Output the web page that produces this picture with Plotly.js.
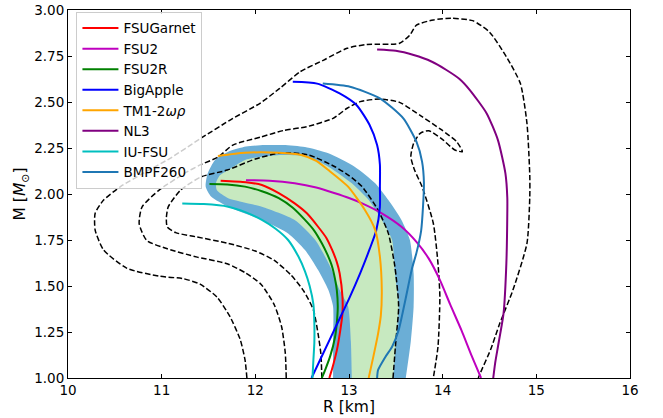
<!DOCTYPE html>
<html>
<head>
<meta charset="utf-8">
<script src="https://cdn.plot.ly/plotly-3.0.1.min.js"></script>
<style>html,body{margin:0;padding:0;background:#fff;}#chart{width:663px;height:418px;}</style>
</head>
<body>
<div id="chart"></div>
<script>
// ---- EoS mass-radius curves (R in km, M in solar masses) ----
const fsuGarnetR = [11.63, 11.90, 12.07, 12.25, 12.42, 12.55, 12.67, 12.76, 12.82, 12.87, 12.90, 12.93, 12.93, 12.91, 12.87, 12.82, 12.79];
const fsuGarnetM = [2.072, 2.064, 2.049, 2.005, 1.949, 1.895, 1.822, 1.76, 1.696, 1.63, 1.569, 1.442, 1.35, 1.27, 1.15, 1.05, 1.0];

const fsu2R = [11.90, 12.15, 12.42, 12.65, 12.85, 13.00, 13.14, 13.35, 13.56, 13.72, 13.85, 13.97, 14.08, 14.20, 14.31, 14.41];
const fsu2M = [2.075, 2.072, 2.058, 2.035, 2.004, 1.978, 1.949, 1.895, 1.822, 1.74, 1.65, 1.533, 1.40, 1.26, 1.12, 1.0];

const fsu2rR = [11.51, 11.70, 11.89, 12.07, 12.25, 12.40, 12.53, 12.63, 12.71, 12.77, 12.82, 12.85, 12.87, 12.88, 12.87, 12.85, 12.80, 12.75, 12.71];
const fsu2rM = [2.054, 2.052, 2.04, 2.015, 1.977, 1.925, 1.859, 1.80, 1.732, 1.67, 1.605, 1.54, 1.478, 1.388, 1.30, 1.22, 1.12, 1.05, 1.0];

const bigAppleR = [12.40, 12.66, 12.90, 13.08, 13.22, 13.30, 13.33, 13.33, 13.33, 13.29, 13.22, 13.12, 13.00, 12.86, 12.73, 12.60];
const bigAppleM = [2.61, 2.60, 2.547, 2.484, 2.375, 2.266, 2.16, 2.04, 1.93, 1.80, 1.70, 1.57, 1.43, 1.28, 1.14, 1.0];

const tm1R = [11.60, 11.89, 12.25, 12.49, 12.65, 12.78, 12.99, 13.17, 13.28, 13.33, 13.35, 13.34, 13.31, 13.26, 13.21];
const tm1M = [2.207, 2.224, 2.224, 2.212, 2.18, 2.13, 2.04, 1.913, 1.804, 1.659, 1.478, 1.34, 1.24, 1.116, 1.0];

const nl3R = [13.30, 13.50, 13.69, 13.88, 14.04, 14.18, 14.29, 14.47, 14.59, 14.67, 14.69, 14.69, 14.68, 14.65, 14.59, 14.56, 14.54];
const nl3M = [2.785, 2.778, 2.755, 2.72, 2.674, 2.625, 2.565, 2.438, 2.293, 2.112, 1.98, 1.895, 1.623, 1.351, 1.17, 1.08, 1.0];

const iufsuR = [11.22, 11.45, 11.71, 11.90, 12.07, 12.22, 12.35, 12.46, 12.53, 12.58, 12.62, 12.63, 12.63, 12.62, 12.61];
const iufsuM = [1.948, 1.945, 1.931, 1.90, 1.859, 1.81, 1.75, 1.66, 1.58, 1.50, 1.40, 1.30, 1.19, 1.10, 1.0];

const bmpfR = [12.72, 13.01, 13.33, 13.58, 13.72, 13.78, 13.80, 13.79, 13.77, 13.72, 13.67, 13.60, 13.53, 13.46, 13.39, 13.31, 13.30];
const bmpfM = [2.60, 2.583, 2.52, 2.411, 2.284, 2.176, 2.06, 1.93, 1.80, 1.68, 1.59, 1.42, 1.26, 1.17, 1.116, 1.043, 1.0];

// ---- band (outer edge) and inner green region ----
const bandOuterR = [12.83, 12.83, 12.83, 12.78, 12.67, 12.53, 12.35, 12.07, 11.71, 11.53, 11.47, 11.49, 11.57, 11.71, 11.90, 12.10, 12.30, 12.53, 12.78, 13.06, 13.28, 13.42, 13.56, 13.65, 13.69, 13.69, 13.66, 13.60];
const bandOuterM = [0.98, 1.2, 1.388, 1.478, 1.587, 1.696, 1.786, 1.859, 1.931, 1.985, 2.04, 2.11, 2.185, 2.23, 2.258, 2.266, 2.266, 2.255, 2.221, 2.148, 2.058, 1.967, 1.859, 1.75, 1.569, 1.388, 1.20, 0.98];

const greenR = [13.03, 13.02, 12.99, 12.90, 12.80, 12.64, 12.42, 12.07, 11.71, 11.59, 11.58, 11.62, 11.71, 11.89, 12.07, 12.28, 12.55, 12.78, 13.03, 13.21, 13.35, 13.46, 13.49, 13.53, 13.50, 13.47];
const greenM = [0.98, 1.2, 1.388, 1.478, 1.605, 1.75, 1.859, 1.931, 1.977, 2.02, 2.06, 2.10, 2.13, 2.185, 2.203, 2.212, 2.205, 2.148, 2.058, 1.967, 1.859, 1.75, 1.569, 1.388, 1.2, 0.98];

// ---- dashed contours ----
const contourOuterR = [11.91, 11.89, 11.84, 11.73, 11.59, 11.41, 11.23, 10.98, 10.63, 10.38, 10.29, 10.29, 10.38, 10.56, 10.80, 11.09, 11.41, 11.76, 12.05, 12.26, 12.48, 12.73, 12.98, 13.19, 13.54, 13.65, 13.72, 13.90, 14.09, 14.32, 14.50, 14.68, 14.83, 14.90, 14.93, 14.93, 14.90, 14.75, 14.61, 14.51, 14.40, 14.38];
const contourOuterM = [1.00, 1.098, 1.207, 1.333, 1.44, 1.51, 1.54, 1.553, 1.596, 1.696, 1.804, 1.895, 1.967, 2.04, 2.112, 2.194, 2.30, 2.411, 2.493, 2.574, 2.665, 2.728, 2.792, 2.813, 2.819, 2.864, 2.918, 2.946, 2.955, 2.942, 2.88, 2.746, 2.60, 2.384, 2.10, 1.985, 1.732, 1.478, 1.297, 1.152, 1.025, 1.0];

const contourMidR = [12.33, 12.32, 12.28, 12.20, 12.06, 11.90, 11.70, 11.38, 11.06, 10.84, 10.76, 10.79, 10.97, 11.24, 11.41, 11.60, 11.76, 12.06, 12.30, 12.55, 12.83, 12.98, 13.12, 13.33, 13.54, 13.78, 13.99, 14.15, 14.21, 14.13, 13.99, 13.85, 13.76, 13.69, 13.66, 13.70, 13.78, 13.90, 13.95, 13.97, 13.95, 13.90];
const contourMidM = [1.0, 1.134, 1.28, 1.40, 1.51, 1.57, 1.621, 1.657, 1.702, 1.748, 1.838, 1.929, 2.02, 2.111, 2.158, 2.20, 2.266, 2.31, 2.345, 2.366, 2.411, 2.466, 2.502, 2.516, 2.498, 2.42, 2.348, 2.284, 2.23, 2.239, 2.30, 2.344, 2.33, 2.275, 2.203, 2.13, 2.04, 1.841, 1.623, 1.442, 1.17, 1.0];

const contourInnerR = [12.71, 12.70, 12.67, 12.62, 12.52, 12.38, 12.20, 12.00, 11.71, 11.36, 11.15, 11.06, 11.05, 11.07, 11.20, 11.42, 11.70, 12.00, 12.28, 12.57, 12.85, 13.00, 13.14, 13.31, 13.42, 13.49, 13.53, 13.50, 13.47];
const contourInnerM = [1.0, 1.13, 1.24, 1.37, 1.47, 1.56, 1.64, 1.69, 1.732, 1.768, 1.79, 1.82, 1.87, 1.93, 2.02, 2.093, 2.13, 2.19, 2.224, 2.212, 2.148, 2.10, 2.04, 1.913, 1.786, 1.605, 1.388, 1.2, 1.0];

const eosNames = ['FSUGarnet', 'FSU2', 'FSU2R', 'BigApple', 'TM1-2<i>ωρ</i>', 'NL3', 'IU-FSU', 'BMPF260'];
const eosColors = ['#ff0000', '#bf00bf', '#008000', '#0000ff', '#ffa500', '#800080', '#00bfbf', '#1f77b4'];
const eosR = [fsuGarnetR, fsu2R, fsu2rR, bigAppleR, tm1R, nl3R, iufsuR, bmpfR];
const eosM = [fsuGarnetM, fsu2M, fsu2rM, bigAppleM, tm1M, nl3M, iufsuM, bmpfM];

const traces = [];
traces.push({x: bandOuterR, y: bandOuterM, mode: 'lines', fill: 'toself', fillcolor: '#6baed6',
  line: {width: 0, color: '#6baed6', shape: 'spline', smoothing: 0.6}, showlegend: false, hoverinfo: 'skip'});
traces.push({x: greenR, y: greenM, mode: 'lines', fill: 'toself', fillcolor: '#c7e9c0',
  line: {width: 0, color: '#c7e9c0', shape: 'spline', smoothing: 0.6}, showlegend: false, hoverinfo: 'skip'});

[[contourOuterR, contourOuterM], [contourMidR, contourMidM], [contourInnerR, contourInnerM]].forEach(c => {
  traces.push({x: c[0], y: c[1], mode: 'lines', showlegend: false, hoverinfo: 'skip',
    line: {color: 'black', width: 1.5, dash: '5.5px,2.5px', shape: 'spline', smoothing: 0.6}});
});

eosNames.forEach((n, i) => {
  traces.push({x: eosR[i], y: eosM[i], mode: 'lines', name: n,
    line: {color: eosColors[i], width: 2, shape: 'spline', smoothing: 0.6}});
});

const font = {family: 'DejaVu Sans, sans-serif', color: 'black'};
const layout = {
  width: 663, height: 418,
  margin: {l: 68, r: 33, t: 10, b: 40},
  paper_bgcolor: 'white', plot_bgcolor: 'white',
  font: Object.assign({size: 12}, font),
  showlegend: true,
  legend: {x: 0.015, y: 0.995, xanchor: 'left', yanchor: 'top', itemwidth: 36,
    bgcolor: 'rgba(255,255,255,0.8)', bordercolor: '#cccccc', borderwidth: 1,
    font: Object.assign({size: 13.5}, font), tracegroupgap: 0},
  xaxis: {range: [10, 16], dtick: 1, tick0: 10, ticks: 'inside', ticklen: 4, tickcolor: 'black',
    mirror: 'ticks', showline: true, linecolor: 'black', linewidth: 1, showgrid: false, zeroline: false,
    tickfont: Object.assign({size: 13.5}, font),
    title: {text: 'R [km]', font: Object.assign({size: 15.5}, font), standoff: 3}},
  yaxis: {range: [1, 3], dtick: 0.25, tick0: 1, tickformat: '.2f', ticks: 'inside', ticklen: 4, tickcolor: 'black',
    mirror: 'ticks', showline: true, linecolor: 'black', linewidth: 1, showgrid: false, zeroline: false,
    tickfont: Object.assign({size: 13.5}, font),
    title: {text: 'M [<i>M</i><sub>⊙</sub>]', font: Object.assign({size: 15.5}, font), standoff: 4}}
};

Plotly.newPlot('chart', traces, layout, {staticPlot: true, displayModeBar: false});
</script>
</body>
</html>
